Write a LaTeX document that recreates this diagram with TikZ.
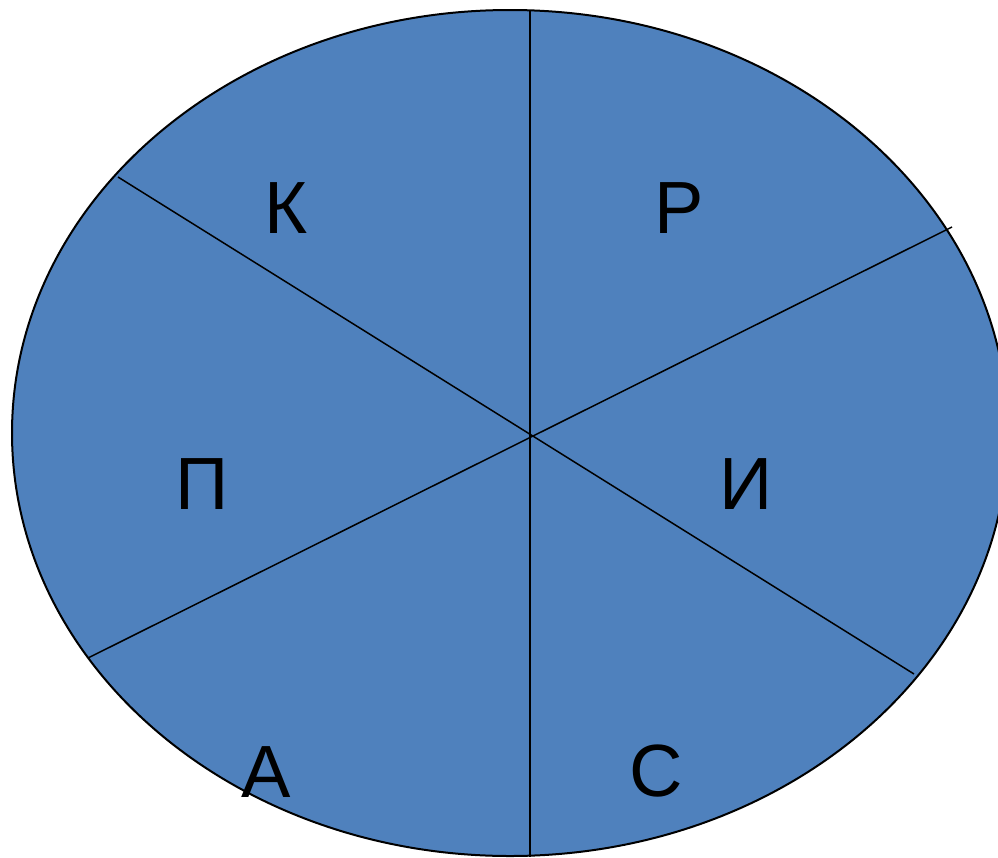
\documentclass[tikz,border=0pt]{standalone}
\usepackage{fontspec}
\setmainfont{Liberation Sans}
\definecolor{segblue}{HTML}{4F81BD}
\begin{document}
\begin{tikzpicture}[x=1pt,y=-1pt,
  divider/.style={draw=black,line width=1.5pt},
  letter/.style={inner sep=0pt,font=\fontsize{74}{80}\selectfont}]
\useasboundingbox (0,0) rectangle (998,857);
\begin{scope}
\clip (0,0) rectangle (998,857);
\path[fill=segblue,draw=black,line width=2pt] (510,433) ellipse [x radius=498, y radius=423];
\coordinate (c) at (530,435);
\coordinate (top) at (530,10);
\coordinate (bot) at (530,857);
\coordinate (ul) at (118,177);
\coordinate (ur) at (952,227);
\coordinate (ll) at (88,658);
\coordinate (lr) at (914,674);
\draw[divider] (top) -- (bot);
\draw[divider] (ul) -- (lr);
\draw[divider] (ur) -- (ll);
\end{scope}
\node[letter] (k) at (286,208) {К};
\node[letter] (r) at (679,208) {Р};
\node[letter] (p) at (202,484) {П};
\node[letter] (i) at (746,484) {И};
\node[letter] (a) at (266,772) {А};
\node[letter] (s) at (656,771) {С};
\end{tikzpicture}
\end{document}
